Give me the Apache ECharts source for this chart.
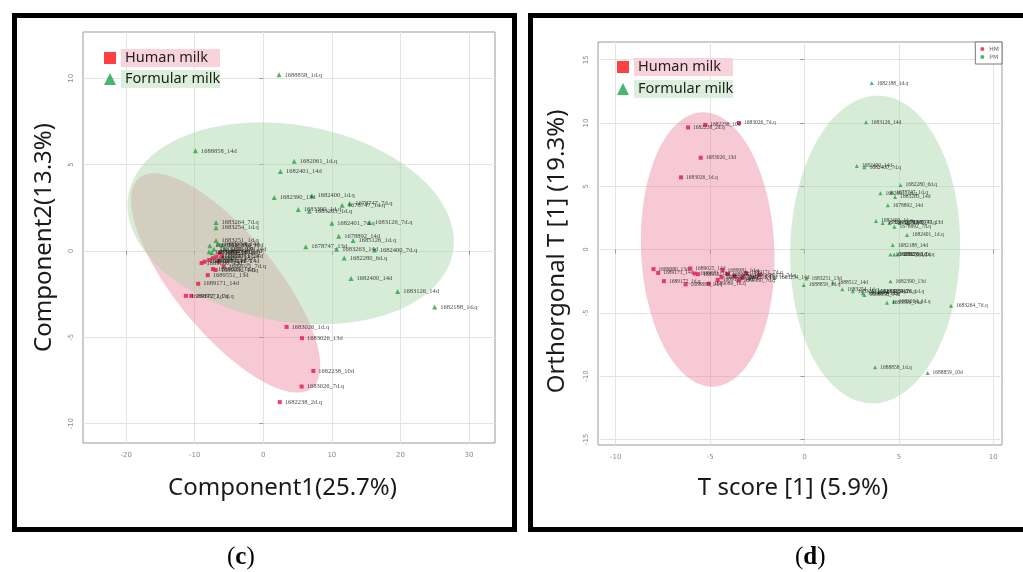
<!DOCTYPE html>
<html><head><meta charset="utf-8">
<script src="https://cdn.jsdelivr.net/npm/echarts@6/dist/echarts.min.js"></script>
<style>html,body{margin:0;padding:0;background:#fff}#c{width:1023px;height:572px}</style>
</head><body><div id="c"></div>
<script>
// ---------- tick labels ----------
const cTicksX = [-20, -10, 0, 10, 20, 30];
const cTicksY = [-10, -5, 0, 5, 10];
const dTicksX = [-10, -5, 0, 5, 10];
const dTicksY = [-15, -10, -5, 0, 5, 10, 15];

// ---------- panel (c): PLS-DA scores [x, y, sample] ----------
const cHuman = [
  [3.4, -4.4, '1683026_1d.q'], [5.65, -5.05, '1683026_13d'], [7.3, -6.95, '1682238_10d'],
  [5.6, -7.85, '1683026_7d.q'], [2.4, -8.75, '1682238_2d.q'], [-9.5, -1.9, '1689171_14d'],
  [-11.3, -2.6, '1689172_1d.q'], [-10.5, -2.6, '1689171_7d.q'], [-8.1, -1.4, '1689551_13d'],
  [-9.0, -0.7, '1689080_13d'], [-8.55, -0.62, '1689025_14d'], [-7.9, -0.52, '1689081_1d.q'],
  [-7.35, -0.42, '1688080_1d.q'], [-6.85, -0.33, '1689551_1d.q'], [-6.4, -0.13, '1689551_14d'],
  [-7.35, -1.05, '1689025_1d.q'], [-6.95, -1.1, '1689080_1d.q'], [-6.5, -0.6, '1689172_14d'],
  [-6.0, -0.3, '1689081_14d'], [-5.8, -0.9, '1689025_7d.q']
];
const cFormula = [
  [2.3, 10.2, '1688858_1d.q'], [-9.9, 5.8, '1688858_14d'], [4.5, 5.2, '1682061_1d.q'],
  [2.5, 4.6, '1682401_14d'], [1.6, 3.1, '1682390_13d'], [7.1, 3.2, '1682400_1d.q'],
  [11.5, 2.65, '1678747_1d.q'], [12.6, 2.75, '1678747_7d.q'], [5.1, 2.4, '1683390_1d.q'],
  [6.7, 2.3, '1683263_1d.q'], [10.0, 1.6, '1682401_7d.q'], [15.5, 1.65, '1683126_7d.q'],
  [11.0, 0.85, '1678892_14d'], [13.1, 0.6, '1685126_1d.q'], [6.2, 0.25, '1678747_13d'],
  [10.7, 0.1, '1683263_14d'], [16.2, 0.05, '1682400_7d.q'], [11.8, -0.4, '1682280_6d.q'],
  [12.8, -1.6, '1682400_14d'], [19.6, -2.35, '1683126_14d'], [25.0, -3.25, '1682188_1d.q'],
  [-6.9, 1.65, '1683264_7d.q'], [-6.9, 1.35, '1683254_1d.q'], [-6.9, 0.6, '1683251_1d.q'],
  [-7.8, 0.3, '1688512_14d'], [-7.2, 0.1, '1683251_13d'], [-6.6, 0.4, '1683254_14d'],
  [-6.2, 0.0, '1682394_14d'], [-7.5, -0.1, '1688859_1d.q'], [-6.0, 0.35, '1688859_10d'],
  [-5.6, 0.1, '1683390_14d'], [-7.9, -0.05, '1683264_1d.q']
];
// confidence ellipses [cx, cy, ux, uy, vx, vy] (centre + two conjugate semi-axes)
const cEllipses = [
  [-5.49, -1.85, 12.59, -6.08, -5.65, -1.83],
  [4.0, 1.6, 23.66, -1.685, -2.62, -5.6]
];

// ---------- panel (d): OPLS-DA scores ----------
const dHuman = [
  [-6.17, 9.65, '1682238_2d.q'], [-5.26, 9.85, '1682238_10d'], [-3.47, 10.0, '1683026_7d.q'],
  [-5.5, 7.25, '1683026_13d'], [-6.54, 5.7, '1683026_1d.q'], [-8.0, -1.55, '1689080_13d'],
  [-7.75, -1.85, '1689171_14d'], [-7.45, -2.5, '1689172_1d.q'], [-6.3, -2.75, '1688080_1d.q'],
  [-6.05, -1.5, '1689025_14d'], [-5.82, -1.9, '1689551_13d'], [-5.64, -1.95, '1689551_1d.q'],
  [-5.06, -2.7, '1689080_1d.q'], [-4.35, -1.65, '1689081_1d.q'], [-4.6, -2.4, '1689172_14d'],
  [-4.4, -2.2, '1689025_1d.q'], [-4.1, -1.95, '1689081_14d'], [-3.7, -2.1, '1689025_7d.q'],
  [-3.3, -2.25, '1689551_14d'], [-3.1, -1.85, '1689171_7d.q'], [-2.38, -2.03, '1689172_7d.q'],
  [-3.5, -2.45, '1689080_7d.q']
];
const dFormula = [
  [3.56, 13.15, '1682188_1d.q'], [3.26, 10.05, '1683126_14d'], [2.77, 6.6, '1682400_14d'],
  [3.17, 6.5, '1682400_7d.q'], [5.08, 5.1, '1682280_6d.q'], [4.02, 4.45, '1682061_1d.q'],
  [4.6, 4.5, '1678747_1d.q'], [4.8, 4.15, '1683263_14d'], [4.41, 3.5, '1678892_14d'],
  [3.79, 2.25, '1682400_1d.q'], [4.14, 2.1, '1682401_7d.q'], [4.5, 2.1, '1683263_1d.q'],
  [5.03, 2.1, '1678747_7d.q'], [5.47, 2.1, '1678747_13d'], [4.76, 1.8, '1678892_7d.q'],
  [5.43, 1.15, '1682401_1d.q'], [4.67, 0.35, '1682188_14d'], [4.55, -0.4, '1682390_1d.q'],
  [4.75, -0.4, '1685126_1d.q'], [4.95, -0.4, '1682390_7d.q'], [4.55, -2.5, '1682390_13d'],
  [7.76, -4.45, '1683264_7d.q'], [4.37, -4.2, '1683390_14d'], [4.73, -4.1, '1683264_1d.q'],
  [3.74, -9.3, '1688858_1d.q'], [6.52, -9.75, '1688859_10d'], [2.0, -3.15, '1683254_1d.q'],
  [2.56, -3.3, '1683251_1d.q'], [3.09, -3.45, '1683390_1d.q'], [3.17, -3.6, '1688858_14d'],
  [3.6, -3.3, '1682390_14d'], [3.95, -3.35, '1683254_7d.q'], [4.4, -3.35, '1683126_1d.q'],
  [1.5, -2.6, '1688512_14d'], [-0.04, -2.8, '1688859_1d.q'], [0.1, -2.3, '1683251_13d'],
  [-1.6, -2.25, '1683254_14d']
];
const dEllipses = [
  [-5.13, 0.0, -0.24, 10.84, 3.53, 0.0],
  [3.74, 0.0, 0.14, 12.16, 4.5, 0.0]
];

// ---------- styling ----------
const RED = '#e3174d', GREEN = '#25a244';
const FILLS = ['rgba(236,120,150,0.4)', 'rgba(166,213,166,0.45)'];

function ellipseRender(params, api) {
  const cx = api.value(0), cy = api.value(1), ux = api.value(2), uy = api.value(3), vx = api.value(4), vy = api.value(5);
  const pts = [];
  for (let i = 0; i < 120; i++) {
    const t = i / 120 * Math.PI * 2;
    pts.push(api.coord([cx + ux * Math.cos(t) + vx * Math.sin(t), cy + uy * Math.cos(t) + vy * Math.sin(t)]));
  }
  return { type: 'polygon', shape: { points: pts }, style: { fill: FILLS[params.dataIndex] } };
}

const tickLab = { fontSize: 7, color: '#8a8a8a', fontFamily: 'DejaVu Sans' };
function nameStyle(pad) { return { fontSize: 24, fontFamily: 'Noto Sans', color: '#1a1a1a', padding: pad }; }
function xAx(grid, min, max, ticks, name, gap, pad) {
  return { gridIndex: grid, type: 'value', min: min, max: max,
    axisLine: { show: false },
    axisTick: { show: true, customValues: ticks, length: 4, lineStyle: { color: '#999' } },
    axisLabel: Object.assign({ customValues: ticks, margin: 9 }, tickLab),
    splitLine: { show: true, lineStyle: { color: '#e4e4e4' } },
    name: name, nameLocation: 'middle', nameGap: gap, nameTextStyle: nameStyle(pad) };
}
function yAx(grid, min, max, ticks, name, gap, pad) {
  return { gridIndex: grid, type: 'value', min: min, max: max,
    axisLine: { show: false },
    axisTick: { show: true, customValues: ticks, length: 4, lineStyle: { color: '#999' } },
    axisLabel: Object.assign({ customValues: ticks, margin: 8, rotate: 90 }, tickLab),
    splitLine: { show: true, lineStyle: { color: '#e4e4e4' } },
    name: name, nameLocation: 'middle', nameGap: gap, nameTextStyle: nameStyle(pad) };
}
function pointLabel(size) {
  return { show: true, position: 'right', distance: 3, formatter: p => p.data[2],
    fontSize: size, fontFamily: 'Liberation Serif', color: '#111' };
}
const bigLegendText = { fontSize: 14.5, fontFamily: 'Noto Sans', color: '#222', width: 91, height: 18, lineHeight: 18, padding: [0, 4] };
function bigLegend(left, top, gap) {
  return { left: left, top: top, orient: 'vertical', itemWidth: 12, itemHeight: 12, itemGap: gap, selectedMode: false,
    textStyle: bigLegendText,
    data: [
      { name: 'Human milk', icon: 'rect', itemStyle: { color: '#ff1010' }, textStyle: { backgroundColor: '#f8d3dc' } },
      { name: 'Formular milk', icon: 'triangle', itemStyle: { color: '#18a64a' }, textStyle: { backgroundColor: '#dcefdc' } }
    ] };
}
function caption(letter, left) {
  return { text: '{a|(}{b|' + letter + '}{a|)}', left: left, top: 540, textStyle: { fontWeight: 'normal', rich: {
    a: { fontSize: 25, fontFamily: 'Liberation Serif', fontWeight: 'normal', color: '#000' },
    b: { fontSize: 25, fontFamily: 'Liberation Serif', fontWeight: 'bold', color: '#000' } } } };
}

const chart = echarts.init(document.getElementById('c'), null, { renderer: 'canvas' });
chart.setOption({
  animation: false,
  backgroundColor: '#fff',
  grid: [
    { left: 83, top: 32, width: 412, height: 411, show: true, borderColor: '#9a9a9a', borderWidth: 1, backgroundColor: 'transparent' },
    { left: 598, top: 42, width: 404, height: 403, show: true, borderColor: '#9a9a9a', borderWidth: 1, backgroundColor: 'transparent' }
  ],
  xAxis: [
    xAx(0, -26.3, 33.8, cTicksX, 'Component1(25.7%)', 33, [0, 13, 0, 0]),
    xAx(1, -10.94, 10.46, dTicksX, 'T score [1] (5.9%)', 31, [0, 14, 0, 0])
  ],
  yAxis: [
    yAx(0, -11.12, 12.68, cTicksY, 'Component2(13.3%)', 27, [0, 0, 0, 0]),
    yAx(1, -15.45, 16.4, dTicksY, 'Orthorgonal T [1] (19.3%)', 29, [0, 16, 0, 0])
  ],
  legend: [
    bigLegend(99, 44, 3),
    bigLegend(612, 53, 4),
    { right: 21, top: 42, orient: 'vertical', itemWidth: 4, itemHeight: 4, itemGap: 2, icon: 'circle', selectedMode: false,
      borderColor: '#777', borderWidth: 1, padding: [4, 3, 4, 5], backgroundColor: '#fff',
      textStyle: { fontSize: 6, color: '#666', fontFamily: 'DejaVu Sans' }, data: ['HM', 'PM'] }
  ],
  title: [caption('c', 222), caption('d', 790)],
  graphic: [
    { type: 'rect', shape: { x: 14.5, y: 15.5, width: 500, height: 514 }, style: { fill: 'none', stroke: '#000', lineWidth: 5 }, z: 100 },
    { type: 'rect', shape: { x: 530.5, y: 15.5, width: 510, height: 514 }, style: { fill: 'none', stroke: '#000', lineWidth: 5 }, z: 100 }
  ],
  series: [
    { type: 'custom', name: 'ellC', xAxisIndex: 0, yAxisIndex: 0, z: 1, renderItem: ellipseRender, data: cEllipses, encode: { x: 0, y: 1 }, silent: true },
    { type: 'custom', name: 'ellD', xAxisIndex: 1, yAxisIndex: 1, z: 1, renderItem: ellipseRender, data: dEllipses, encode: { x: 0, y: 1 }, silent: true },
    { type: 'scatter', name: 'Formular milk', xAxisIndex: 0, yAxisIndex: 0, symbol: 'triangle', symbolSize: 5,
      itemStyle: { color: GREEN }, label: pointLabel(6.5), data: cFormula, z: 3 },
    { type: 'scatter', name: 'Human milk', xAxisIndex: 0, yAxisIndex: 0, symbol: 'rect', symbolSize: 4,
      itemStyle: { color: RED }, label: pointLabel(6.5), data: cHuman, z: 3 },
    { type: 'scatter', name: 'PM', xAxisIndex: 1, yAxisIndex: 1, symbol: 'triangle', symbolSize: 4,
      itemStyle: { color: GREEN }, label: pointLabel(5.5), data: dFormula, z: 3 },
    { type: 'scatter', name: 'HM', xAxisIndex: 1, yAxisIndex: 1, symbol: 'rect', symbolSize: 4,
      itemStyle: { color: RED }, label: pointLabel(5.5), data: dHuman, z: 3 }
  ]
});
</script></body></html>
